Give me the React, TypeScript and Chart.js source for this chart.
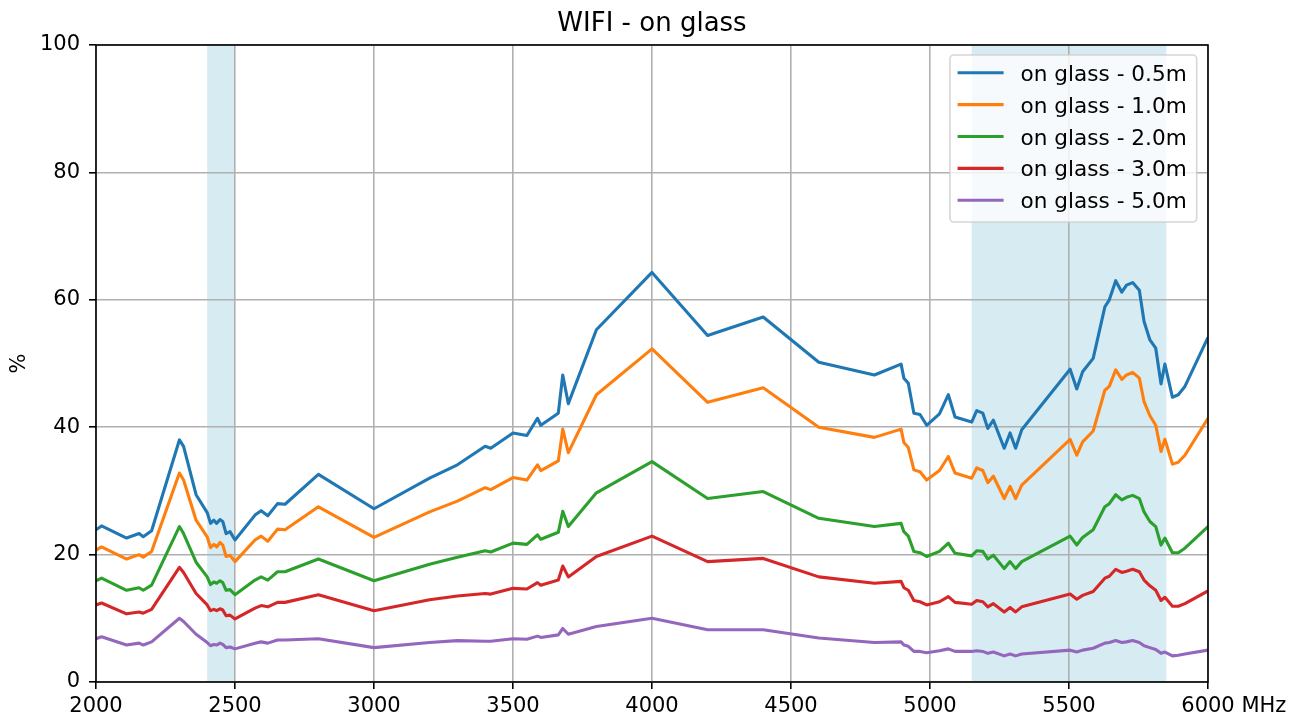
import React, { useEffect, useRef } from "react";
import { Chart, registerables } from "chart.js";

Chart.register(...registerables);

const FONT = "'DejaVu Sans', 'Liberation Sans', sans-serif";

const chartTitle = "WIFI - on glass";
const yAxisLabel = "%";
const xUnitLabel = "MHz";

const frequencies = [
  2000, 2020, 2110, 2155, 2170, 2200, 2300, 2315, 2360, 2400,
  2412, 2424, 2434, 2446, 2456, 2468, 2482, 2500, 2572, 2594,
  2618, 2653, 2680, 2800, 3000, 3200, 3300, 3400, 3420, 3500,
  3550, 3588, 3600, 3663, 3679, 3699, 3800, 4000, 4200, 4400,
  4600, 4800, 4896, 4906, 4922, 4942, 4964, 4988, 5034, 5066,
  5090, 5150, 5168, 5190, 5208, 5228, 5267, 5288, 5308, 5330,
  5504, 5528, 5549, 5587, 5629, 5645, 5668, 5690, 5707, 5729,
  5753, 5770, 5791, 5812, 5831, 5845, 5872, 5893, 5917, 6000,
];

const glass05m = [
  23.9, 24.5, 22.6, 23.3, 22.8, 23.75, 38.0, 37.0, 29.4, 26.6,
  24.9, 25.4, 24.9, 25.5, 25.2, 23.3, 23.6, 22.3, 26.2, 26.9,
  26.1, 28.0, 27.9, 32.6, 27.2, 32.0, 34.1, 37.0, 36.7, 39.1,
  38.7, 41.4, 40.3, 42.2, 48.2, 43.7, 55.3, 64.3, 54.4, 57.3,
  50.2, 48.2, 49.9, 47.7, 46.9, 42.2, 42.0, 40.3, 42.1, 45.1,
  41.6, 40.8, 42.6, 42.2, 39.8, 41.1, 36.7, 39.1, 36.7, 39.6,
  49.1, 46.0, 48.7, 50.8, 58.9, 60.0, 63.0, 61.2, 62.3, 62.7,
  61.5, 56.6, 53.7, 52.4, 46.8, 49.9, 44.7, 45.1, 46.4, 54.1,
];

const glass10m = [
  20.7, 21.2, 19.3, 20.0, 19.6, 20.5, 32.8, 31.7, 25.4, 22.8,
  21.1, 21.6, 21.2, 21.9, 21.5, 19.7, 19.9, 18.9, 22.3, 22.9,
  22.1, 24.0, 23.9, 27.5, 22.7, 26.7, 28.4, 30.5, 30.2, 32.1,
  31.7, 34.1, 33.2, 34.7, 39.7, 36.0, 45.1, 52.3, 43.9, 46.2,
  40.0, 38.4, 39.7, 37.6, 36.8, 33.3, 33.0, 31.7, 33.2, 35.4,
  32.8, 32.0, 33.6, 33.2, 31.3, 32.3, 28.8, 30.7, 28.8, 30.9,
  38.1, 35.6, 37.7, 39.4, 45.8, 46.4, 49.0, 47.5, 48.2, 48.6,
  47.7, 44.0, 41.8, 40.3, 36.2, 38.1, 34.2, 34.5, 35.6, 41.4,
];

const glass20m = [
  15.9, 16.3, 14.4, 14.8, 14.4, 15.2, 24.4, 23.3, 18.8, 16.5,
  15.3, 15.7, 15.5, 15.9, 15.6, 14.4, 14.5, 13.7, 16.0, 16.5,
  16.0, 17.3, 17.3, 19.3, 15.9, 18.5, 19.6, 20.6, 20.4, 21.8,
  21.6, 23.1, 22.4, 23.5, 26.8, 24.4, 29.7, 34.6, 28.8, 29.9,
  25.7, 24.4, 24.9, 23.6, 22.9, 20.5, 20.3, 19.7, 20.5, 21.8,
  20.2, 19.8, 20.6, 20.5, 19.3, 19.9, 17.8, 18.9, 17.8, 18.9,
  22.9, 21.5, 22.7, 23.9, 27.5, 28.0, 29.4, 28.6, 29.0, 29.3,
  28.8, 26.7, 25.2, 24.4, 21.5, 22.6, 20.3, 20.3, 21.0, 24.4,
];

const glass30m = [
  12.1, 12.4, 10.7, 11.0, 10.8, 11.4, 18.0, 17.2, 13.9, 12.1,
  11.2, 11.4, 11.2, 11.5, 11.3, 10.4, 10.5, 9.9, 11.6, 12.0,
  11.8, 12.5, 12.5, 13.7, 11.2, 12.9, 13.5, 13.9, 13.8, 14.7,
  14.6, 15.6, 15.2, 16.0, 18.2, 16.5, 19.7, 22.9, 18.9, 19.4,
  16.5, 15.5, 15.8, 14.8, 14.4, 12.8, 12.6, 12.1, 12.6, 13.4,
  12.5, 12.2, 12.8, 12.6, 11.8, 12.3, 11.0, 11.7, 11.0, 11.8,
  13.8, 13.0, 13.6, 14.2, 16.3, 16.6, 17.7, 17.2, 17.4, 17.7,
  17.3, 16.0, 15.1, 14.4, 12.8, 13.3, 11.9, 11.9, 12.3, 14.3,
];

const glass50m = [
  6.8, 7.1, 5.8, 6.1, 5.8, 6.3, 10.0, 9.5, 7.5, 6.2,
  5.7, 5.9, 5.8, 6.1, 5.9, 5.4, 5.5, 5.2, 6.1, 6.3,
  6.1, 6.6, 6.6, 6.8, 5.4, 6.2, 6.5, 6.4, 6.4, 6.8,
  6.7, 7.2, 7.0, 7.4, 8.4, 7.5, 8.7, 10.0, 8.2, 8.2,
  6.9, 6.2, 6.3, 5.8, 5.6, 4.8, 4.8, 4.6, 4.9, 5.2,
  4.8, 4.8, 4.9, 4.8, 4.5, 4.7, 4.1, 4.4, 4.1, 4.4,
  5.0, 4.7, 5.0, 5.3, 6.1, 6.2, 6.5, 6.2, 6.3, 6.5,
  6.2, 5.7, 5.4, 5.1, 4.5, 4.7, 4.1, 4.2, 4.4, 5.0,
];

const seriesLabels = [
  "on glass - 0.5m",
  "on glass - 1.0m",
  "on glass - 2.0m",
  "on glass - 3.0m",
  "on glass - 5.0m",
];
const seriesValues = [glass05m, glass10m, glass20m, glass30m, glass50m];
const seriesColors = ["#1f77b4", "#ff7f0e", "#2ca02c", "#d62728", "#9467bd"];

const xTickValues = [2000, 2500, 3000, 3500, 4000, 4500, 5000, 5500, 6000];
const yTickValues = [0, 20, 40, 60, 80, 100];

const wifiBands = [
  [2400, 2500],
  [5150, 5850],
];

const TICK_FONT = 21;
const LEGEND_FONT = 21.6;
const TITLE_FONT = 26;
const TICK_LEN = 7;
const X_PAD = 5;

export default function App() {
  const ref = useRef<HTMLCanvasElement>(null);

  useEffect(() => {
    const canvas = ref.current;
    if (!canvas) return;

    const extras = {
      id: "mplExtras",
      beforeDraw(chart: any) {
        const { ctx, chartArea: ca, scales } = chart;
        const xs = scales.x;
        ctx.save();
        ctx.fillStyle = "rgba(173,216,230,0.5)";
        for (const [a, b] of wifiBands) {
          const x1 = Math.max(ca.left, xs.getPixelForValue(a));
          const x2 = Math.min(ca.right, xs.getPixelForValue(b));
          ctx.fillRect(x1, ca.top, x2 - x1, ca.bottom - ca.top);
        }
        ctx.restore();
      },
      afterDatasetsDraw(chart: any) {
        const { ctx, chartArea: ca } = chart;
        ctx.save();
        ctx.strokeStyle = "#000";
        ctx.lineWidth = 1.6;
        ctx.strokeRect(ca.left, ca.top, ca.right - ca.left, ca.bottom - ca.top);
        ctx.restore();
      },
      afterDraw(chart: any) {
        const { ctx, chartArea: ca, scales } = chart;
        ctx.save();
        // unit label after the last x tick
        const xs = scales.x;
        ctx.font = `${TICK_FONT}px ${FONT}`;
        ctx.fillStyle = "#000";
        ctx.textAlign = "left";
        ctx.textBaseline = "middle";
        const lastTick = xTickValues[xTickValues.length - 1];
        const lastLabel = String(lastTick);
        const px = xs.getPixelForValue(lastTick);
        const ux = px - ctx.measureText(lastLabel).width / 2 + ctx.measureText(lastLabel + " ").width;
        const uy = xs.top + TICK_LEN + X_PAD + (TICK_FONT * 1.2) / 2;
        ctx.fillText(xUnitLabel, ux, uy);

        // legend
        ctx.font = `${LEGEND_FONT}px ${FONT}`;
        let tw = 0;
        for (const l of seriesLabels) tw = Math.max(tw, ctx.measureText(l).width);
        const padL = 7.7;
        const handle = 46;
        const gap = 17;
        const padR = 10;
        const rowH = 31.9;
        const boxW = padL + handle + gap + tw + padR;
        const boxH = 167;
        const right = ca.right - 11.3;
        const top = ca.top + 10;
        const left = right - boxW;
        ctx.beginPath();
        ctx.roundRect(left, top, boxW, boxH, 4);
        ctx.fillStyle = "rgba(255,255,255,0.8)";
        ctx.fill();
        ctx.strokeStyle = "rgba(204,204,204,0.8)";
        ctx.lineWidth = 1.6;
        ctx.stroke();
        ctx.textBaseline = "alphabetic";
        ctx.textAlign = "left";
        seriesLabels.forEach((label, i) => {
          const ly = top + 17.7 + i * rowH;
          ctx.beginPath();
          ctx.moveTo(left + padL, ly);
          ctx.lineTo(left + padL + handle, ly);
          ctx.strokeStyle = seriesColors[i];
          ctx.lineWidth = 3.1;
          ctx.lineCap = "butt";
          ctx.stroke();
          ctx.fillStyle = "#000";
          ctx.fillText(label, left + padL + handle + gap, ly + 8);
        });
        ctx.restore();
      },
    };

    const chart = new Chart(canvas, {
      type: "line",
      data: {
        datasets: seriesLabels.map((label, i) => ({
          label,
          data: frequencies.map((f, j) => ({ x: f, y: seriesValues[i][j] })),
          borderColor: seriesColors[i],
          backgroundColor: seriesColors[i],
          borderWidth: 3.1,
          borderJoinStyle: "round" as const,
          pointRadius: 0,
          tension: 0,
          fill: false,
        })),
      },
      options: {
        responsive: false,
        animation: false,
        devicePixelRatio: 1,
        layout: { padding: { left: 0, right: 97, top: 0, bottom: 0 } },
        font: { family: FONT },
        plugins: {
          legend: { display: false },
          tooltip: { enabled: false },
          title: {
            display: true,
            fullSize: false,
            text: chartTitle,
            color: "#000",
            font: { family: FONT, size: TITLE_FONT, weight: "normal", lineHeight: 1.2 },
            padding: { top: 8.5, bottom: 5.3 },
          },
        },
        scales: {
          x: {
            type: "linear",
            min: 2000,
            max: 6000,
            afterBuildTicks: (scale: any) => {
              scale.ticks = xTickValues.map((v) => ({ value: v }));
            },
            afterFit: (scale: any) => {
              scale.height = 38;
            },
            ticks: {
              autoSkip: false,
              maxRotation: 0,
              minRotation: 0,
              padding: X_PAD,
              color: "#000",
              font: { family: FONT, size: TICK_FONT },
              callback: (v: any) => String(v),
            },
            grid: {
              color: "#b0b0b0",
              lineWidth: 1.6,
              drawTicks: true,
              tickLength: TICK_LEN,
              tickColor: "#000",
              tickWidth: 1.6,
            },
            border: { display: false },
          },
          y: {
            type: "linear",
            min: 0,
            max: 100,
            afterBuildTicks: (scale: any) => {
              scale.ticks = yTickValues.map((v) => ({ value: v }));
            },
            afterFit: (scale: any) => {
              scale.width = 96;
            },
            title: {
              display: true,
              text: yAxisLabel,
              color: "#000",
              font: { family: FONT, size: TICK_FONT, lineHeight: 1.2 },
              padding: { top: 7, bottom: 0 },
            },
            ticks: {
              padding: 9,
              color: "#000",
              font: { family: FONT, size: TICK_FONT },
              callback: (v: any) => String(v),
            },
            grid: {
              color: "#b0b0b0",
              lineWidth: 1.6,
              drawTicks: true,
              tickLength: TICK_LEN,
              tickColor: "#000",
              tickWidth: 1.6,
            },
            border: { display: false },
          },
        },
      },
      plugins: [extras],
    } as any);

    return () => chart.destroy();
  }, []);

  return (
    <div style={{ position: "absolute", left: 0, top: 0, width: 1305, height: 720, background: "#fff" }}>
      <canvas ref={ref} width={1305} height={720} style={{ width: 1305, height: 720, display: "block" }} />
    </div>
  );
}
